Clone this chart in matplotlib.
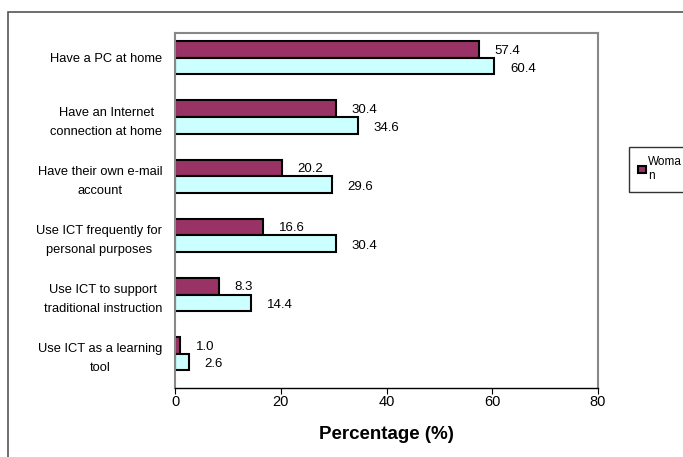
import numpy as np
import matplotlib.pyplot as plt
from matplotlib.patches import Rectangle

categories = ["Have a PC at home",
              "Have an Internet\nconnection at home",
              "Have their own e-mail\naccount",
              "Use ICT frequently for\npersonal purposes",
              "Use ICT to support\ntraditional instruction",
              "Use ICT as a learning\ntool"]
woman = [57.4, 30.4, 20.2, 16.6, 8.3, 1.0]
man = [60.4, 34.6, 29.6, 30.4, 14.4, 2.6]
xticks = [0, 20, 40, 60, 80]

plt.rcParams['font.family'] = ['Liberation Sans', 'DejaVu Sans']

fig = plt.figure(figsize=(6.83, 4.57), dpi=100)
# chart area border
fig.patches.append(Rectangle((8 / 683, -0.1), 1.2, 1 - 12 / 457 + 0.1, transform=fig.transFigure,
                             fill=False, edgecolor='#555555', linewidth=1.2))

ax = fig.add_axes([175 / 683, 1 - 388 / 457, 423 / 683, 355 / 457])

y = np.arange(len(categories))
h = 0.28
ax.barh(y - h / 2, woman, height=h, color='#993366', edgecolor='black', linewidth=1.5, label='Woma\nn')
ax.barh(y + h / 2, man, height=h, color='#CCFFFF', edgecolor='black', linewidth=1.5, label='Man')

for i in range(len(categories)):
    ax.text(woman[i] + 3.0, y[i] - h / 2 + 0.02, f"{woman[i]:.1f}", va='center', ha='left', fontsize=9.5)
    ax.text(man[i] + 3.0, y[i] + h / 2 + 0.04, f"{man[i]:.1f}", va='center', ha='left', fontsize=9.5)

ax.set_xlim(0, 80)
ax.set_ylim(len(categories) - 0.42, -0.42)
ax.set_xticks(xticks)
ax.set_yticks(y)
ax.set_yticklabels(categories, fontsize=9.3, multialignment='center', linespacing=1.8)
ax.tick_params(axis='y', length=0, pad=9)
ax.tick_params(axis='x', length=4, direction='out', labelsize=10.5, pad=1)
for s in ['top', 'right', 'left']:
    ax.spines[s].set_color('#888888')
    ax.spines[s].set_linewidth(1.5)
ax.spines['bottom'].set_color('black')
ax.spines['bottom'].set_linewidth(1.0)
ax.set_xlabel('Percentage (%)', fontsize=13.5, fontweight='bold', labelpad=12)

handles, labels = ax.get_legend_handles_labels()
leg = fig.legend(handles[:1], labels[:1], loc='upper left', bbox_to_anchor=(629 / 683, 1 - 147 / 457),
                 fontsize=8.5, frameon=True, fancybox=False, edgecolor='black',
                 handlelength=0.6, handleheight=0.6, handletextpad=0.2, borderpad=0.8,
                 borderaxespad=0)
leg.get_frame().set_linewidth(1.0)

fig.savefig('out.png', dpi=100)
